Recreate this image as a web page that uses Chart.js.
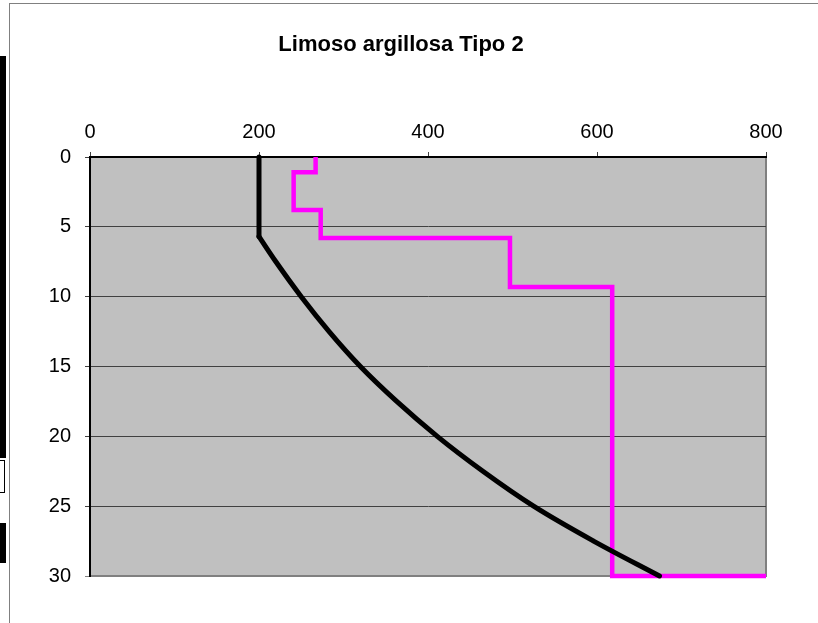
<!DOCTYPE html>
<html>
<head>
<meta charset="utf-8">
<script src="https://cdn.jsdelivr.net/npm/chart.js@4/dist/chart.umd.min.js"></script>
<style>
  html, body { margin: 0; padding: 0; background: #fff; }
  #wrap { position: relative; width: 818px; height: 623px; overflow: hidden; }
  #c { position: absolute; left: 0; top: 0; }
  .frame { position: absolute; left: 9px; top: 3px; width: 830px; height: 640px; border: 1px solid #808080; box-sizing: border-box; pointer-events: none; }
  .blk { position: absolute; background: #000; }
  .box { position: absolute; border: 1px solid #000; border-left: none; background: #fff; }
</style>
</head>
<body>
<div id="wrap">
  <canvas id="c" width="818" height="623"></canvas>
  <div class="frame"></div>
  <div class="blk" style="left:0;top:56px;width:6px;height:402px;"></div>
  <div class="box" style="left:0;top:460px;width:4px;height:31px;"></div>
  <div class="blk" style="left:0;top:523px;width:6px;height:40px;"></div>
</div>
<script>
const chartTitle = "Limoso argillosa Tipo 2";
const xTicks = [0, 200, 400, 600, 800];
const yTicks = [0, 5, 10, 15, 20, 25, 30];

// black curve: depth (m) and value (first two points: vertical part)
const curveDepth = [0, 5.7, 7.5, 10, 12.5, 15, 17.5, 20, 22.5, 25, 27.5, 30];
const curveValue = [200, 200, 220, 250, 283, 320, 363, 411, 465, 525, 596, 674];

// magenta step line
const stepDepth = [0, 1.1, 1.1, 3.8, 3.8, 5.8, 5.8, 9.3, 9.3, 30, 30];
const stepValue = [267, 267, 241, 241, 273, 273, 497, 497, 618, 618, 800];

const toPts = (xs, ys) => xs.map((x, i) => ({ x: x, y: ys[i] }));
const verticalPart = toPts(curveValue.slice(0, 2), curveDepth.slice(0, 2));
const curvedPart = toPts(curveValue.slice(1), curveDepth.slice(1));

const bgPlugin = {
  id: 'bg',
  beforeDraw(chart) {
    const { ctx, chartArea: a } = chart;
    ctx.save();
    ctx.fillStyle = '#C0C0C0';
    ctx.fillRect(a.left, a.top, a.right - a.left, a.bottom - a.top);
    ctx.strokeStyle = '#808080';
    ctx.lineWidth = 2;
    ctx.beginPath();
    ctx.moveTo(a.right, a.top);
    ctx.lineTo(a.right, a.bottom);
    ctx.lineTo(a.left, a.bottom);
    ctx.stroke();
    ctx.restore();
  }
};

const tickFont = { family: "'Liberation Sans', Arial, sans-serif", size: 20 };

new Chart(document.getElementById('c'), {
  type: 'scatter',
  data: {
    datasets: [
      {
        data: verticalPart,
        showLine: true,
        borderColor: '#000000',
        borderWidth: 5,
        pointRadius: 0,
        fill: false,
        clip: false,
        borderCapStyle: 'round'
      },
      {
        data: curvedPart,
        showLine: true,
        borderColor: '#000000',
        borderWidth: 5,
        pointRadius: 0,
        fill: false,
        clip: false,
        cubicInterpolationMode: 'monotone',
        borderCapStyle: 'round'
      },
      {
        data: toPts(stepValue, stepDepth),
        showLine: true,
        borderColor: '#FF00FF',
        borderWidth: 4.5,
        pointRadius: 0,
        fill: false,
        clip: false,
        borderJoinStyle: 'miter'
      }
    ]
  },
  options: {
    responsive: false,
    animation: false,
    layout: { padding: { left: 36, right: 52, top: 0, bottom: 47 } },
    plugins: {
      legend: { display: false },
      tooltip: { enabled: false },
      title: {
        display: true,
        text: chartTitle,
        color: '#000',
        font: { family: "'Liberation Sans', Arial, sans-serif", size: 22, weight: 'bold', lineHeight: 1.2 },
        padding: { top: 32, bottom: 0 }
      }
    },
    scales: {
      x: {
        type: 'linear',
        position: 'top',
        min: 0,
        max: 800,
        afterBuildTicks(scale) { scale.ticks = xTicks.map(v => ({ value: v })); },
        afterFit(scale) { scale.height = 98.6; },
        ticks: { color: '#000', font: tickFont, padding: 8, maxRotation: 0 },
        grid: { drawOnChartArea: false, drawTicks: true, tickLength: 5, color: '#404040', lineWidth: 1 },
        border: { display: true, color: '#000', width: 2 }
      },
      y: {
        type: 'linear',
        reverse: true,
        min: 0,
        max: 30,
        afterBuildTicks(scale) { scale.ticks = yTicks.map(v => ({ value: v })); },
        afterFit(scale) { scale.width = 54; },
        ticks: { color: '#000', font: tickFont, padding: 14 },
        grid: {
          drawOnChartArea: true,
          drawTicks: true,
          tickLength: 5,
          color: (c) => (c.tick && c.tick.value === 30 ? '#808080' : '#404040'),
          lineWidth: 1
        },
        border: { display: true, color: '#000', width: 2 }
      }
    }
  },
  plugins: [bgPlugin]
});
</script>
</body>
</html>
